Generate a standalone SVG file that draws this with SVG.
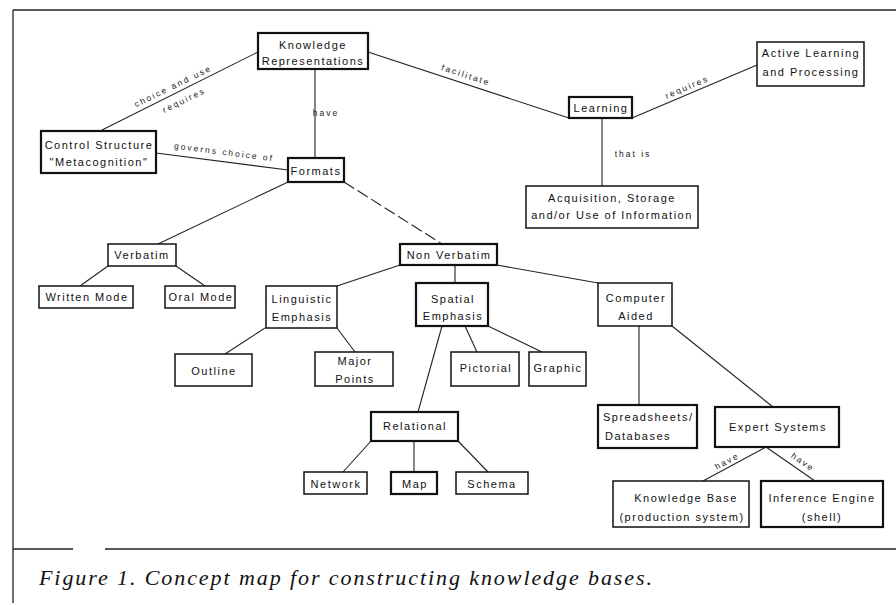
<svg xmlns="http://www.w3.org/2000/svg" width="896" height="605" viewBox="0 0 896 605">
<style>
.box{fill:#fff;stroke:#111;stroke-width:1.5}
.thick{stroke-width:2.2}
.t{font-family:"Liberation Sans",Arial,sans-serif;font-size:11px;letter-spacing:1.5px;fill:#111;text-anchor:middle}
.s{text-anchor:start}
.lbl{font-family:"Liberation Sans",Arial,sans-serif;font-size:8.5px;letter-spacing:2px;fill:#222;text-anchor:middle}
.c{stroke:#222;stroke-width:1.1;fill:none}
.frame{stroke:#222;stroke-width:1.3;fill:none}
.cap{font-family:"Liberation Serif","Times New Roman",serif;font-style:italic;font-size:22px;fill:#111}
</style>
<rect width="896" height="605" fill="#fff"/>
<g id="frame">
<line class="frame" x1="13" y1="10" x2="896" y2="10"/>
<line class="frame" x1="13" y1="10" x2="13" y2="603"/>
<line class="frame" x1="13" y1="549" x2="73" y2="549"/>
<line class="frame" x1="105" y1="549" x2="896" y2="549"/>
</g>
<g id="connectors">
<line class="c" x1="258" y1="52" x2="102" y2="130"/>
<line class="c" x1="315" y1="69" x2="315" y2="158"/>
<line class="c" x1="156" y1="153" x2="288" y2="170"/>
<line class="c" x1="368" y1="52" x2="569" y2="118"/>
<line class="c" x1="632" y1="118" x2="757" y2="65"/>
<line class="c" x1="602" y1="118" x2="602" y2="186"/>
<line class="c" x1="288" y1="182" x2="158" y2="244"/>
<line class="c" x1="344" y1="182" x2="442" y2="244" stroke-dasharray="12 4"/>
<line class="c" x1="108" y1="266" x2="80" y2="286"/>
<line class="c" x1="176" y1="266" x2="205" y2="286"/>
<line class="c" x1="400" y1="265" x2="337" y2="286"/>
<line class="c" x1="455" y1="265" x2="455" y2="283"/>
<line class="c" x1="497" y1="265" x2="598" y2="283"/>
<line class="c" x1="265" y1="328" x2="225" y2="354"/>
<line class="c" x1="337" y1="328" x2="355" y2="352"/>
<line class="c" x1="465" y1="326" x2="477" y2="352"/>
<line class="c" x1="488" y1="326" x2="542" y2="352"/>
<line class="c" x1="442" y1="326" x2="418" y2="412"/>
<line class="c" x1="639" y1="326" x2="639" y2="405"/>
<line class="c" x1="672" y1="326" x2="773" y2="407"/>
<line class="c" x1="371" y1="441" x2="343" y2="472"/>
<line class="c" x1="414" y1="441" x2="414" y2="472"/>
<line class="c" x1="458" y1="441" x2="488" y2="472"/>
<line class="c" x1="766" y1="447" x2="703" y2="481"/>
<line class="c" x1="766" y1="447" x2="815" y2="481"/>
<g transform="translate(173,86) rotate(-26)"><text class="lbl" x="0" y="3">choice and use</text></g>
<g transform="translate(184,100) rotate(-26)"><text class="lbl" x="0" y="3">requires</text></g>
<g transform="translate(224,152) rotate(7.3)"><text class="lbl" x="0" y="3">governs choice of</text></g>
<text class="lbl" x="326" y="116">have</text>
<g transform="translate(466,75) rotate(18)"><text class="lbl" x="0" y="3">facilitate</text></g>
<g transform="translate(687,87) rotate(-23)"><text class="lbl" x="0" y="3">requires</text></g>
<text class="lbl" x="633" y="157">that is</text>
<g transform="translate(727,461) rotate(-28)"><text class="lbl" x="0" y="3">have</text></g>
<g transform="translate(803,462) rotate(35)"><text class="lbl" x="0" y="3">have</text></g>
</g>
<g id="knowledge-representations"><rect class="box thick" x="258" y="33" width="110" height="36"/><text class="t" x="313" y="49">Knowledge</text><text class="t" x="313" y="65">Representations</text></g>
<g id="control-structure"><rect class="box thick" x="41" y="131" width="115" height="42"/><text class="t" x="99" y="149">Control Structure</text><text class="t" x="99" y="166">"Metacognition"</text></g>
<g id="formats"><rect class="box thick" x="288" y="158" width="56" height="24"/><text class="t" x="316" y="175">Formats</text></g>
<g id="learning"><rect class="box thick" x="569" y="97" width="63" height="21"/><text class="t" x="601" y="112">Learning</text></g>
<g id="active-learning"><rect class="box" x="757" y="42" width="107" height="44"/><text class="t" x="811" y="57">Active Learning</text><text class="t" x="811" y="76">and Processing</text></g>
<g id="acquisition"><rect class="box" x="526" y="186" width="172" height="42"/><text class="t" x="612" y="202">Acquisition, Storage</text><text class="t" x="612" y="219">and/or Use of Information</text></g>
<g id="verbatim"><rect class="box" x="108" y="244" width="68" height="22"/><text class="t" x="142" y="259">Verbatim</text></g>
<g id="non-verbatim"><rect class="box thick" x="400" y="244" width="97" height="21"/><text class="t" x="449" y="259">Non Verbatim</text></g>
<g id="written-mode"><rect class="box" x="39" y="286" width="94" height="22"/><text class="t" x="87" y="301">Written Mode</text></g>
<g id="oral-mode"><rect class="box" x="165" y="286" width="70" height="22"/><text class="t" x="201" y="301">Oral Mode</text></g>
<g id="linguistic-emphasis"><rect class="box" x="266" y="286" width="71" height="42"/><text class="t" x="302" y="303">Linguistic</text><text class="t" x="302" y="321">Emphasis</text></g>
<g id="spatial-emphasis"><rect class="box thick" x="416" y="283" width="72" height="43"/><text class="t" x="453" y="303">Spatial</text><text class="t" x="453" y="320">Emphasis</text></g>
<g id="computer-aided"><rect class="box" x="598" y="283" width="74" height="43"/><text class="t" x="636" y="302">Computer</text><text class="t" x="636" y="320">Aided</text></g>
<g id="outline"><rect class="box" x="175" y="354" width="77" height="32"/><text class="t" x="214" y="375">Outline</text></g>
<g id="major-points"><rect class="box" x="315" y="352" width="78" height="34"/><text class="t" x="355" y="365">Major</text><text class="t" x="355" y="383">Points</text></g>
<g id="pictorial"><rect class="box" x="451" y="352" width="68" height="34"/><text class="t" x="486" y="372">Pictorial</text></g>
<g id="graphic"><rect class="box" x="529" y="352" width="57" height="34"/><text class="t" x="558" y="372">Graphic</text></g>
<g id="relational"><rect class="box thick" x="371" y="412" width="87" height="29"/><text class="t" x="415" y="430">Relational</text></g>
<g id="network"><rect class="box" x="304" y="472" width="63" height="22"/><text class="t" x="336" y="488">Network</text></g>
<g id="map"><rect class="box thick" x="391" y="472" width="46" height="22"/><text class="t" x="415" y="488">Map</text></g>
<g id="schema"><rect class="box" x="456" y="472" width="72" height="22"/><text class="t" x="492" y="488">Schema</text></g>
<g id="spreadsheets"><rect class="box thick" x="598" y="405" width="99" height="43"/><text class="t s" x="603" y="421">Spreadsheets/</text><text class="t s" x="605" y="440">Databases</text></g>
<g id="expert-systems"><rect class="box thick" x="715" y="407" width="124" height="40"/><text class="t" x="778" y="431">Expert Systems</text></g>
<g id="knowledge-base"><rect class="box" x="613" y="481" width="136" height="46"/><text class="t" x="686" y="502">Knowledge Base</text><text class="t" x="682" y="521">(production system)</text></g>
<g id="inference-engine"><rect class="box thick" x="761" y="481" width="122" height="46"/><text class="t" x="822" y="502">Inference Engine</text><text class="t" x="822" y="521">(shell)</text></g>
<text class="cap" x="39" y="585" textLength="613" lengthAdjust="spacing">Figure 1. Concept map for constructing knowledge bases.</text>
</svg>
